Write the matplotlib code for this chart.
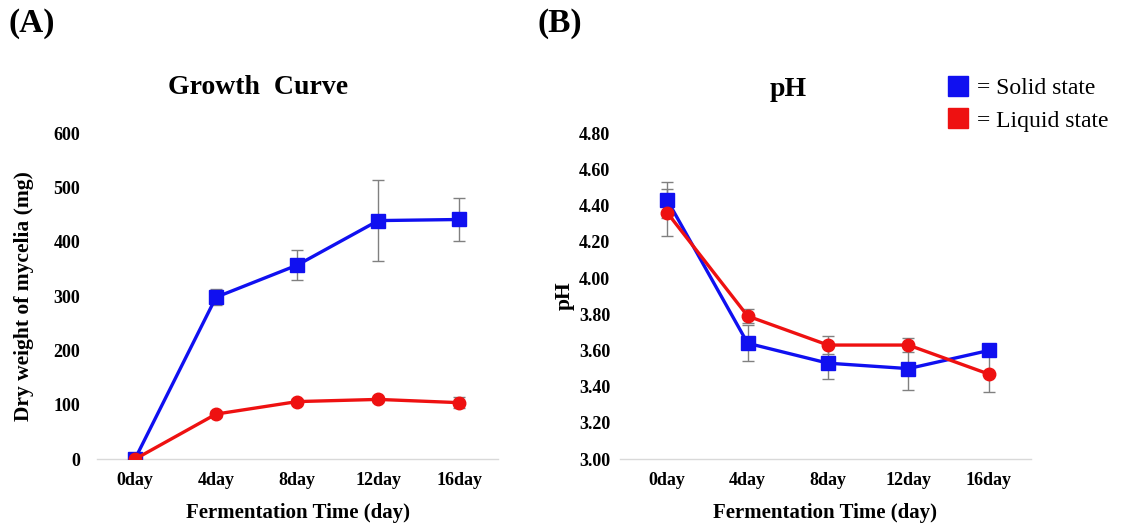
import matplotlib.pyplot as plt
from matplotlib.lines import Line2D

plt.rcParams["font.family"] = ["Liberation Serif", "DejaVu Serif"]
plt.rcParams["font.weight"] = "bold"

DAYS = ["0day", "4day", "8day", "12day", "16day"]

# growth curve (mg)
SOLID_WEIGHT = [0, 298, 357, 439, 441]
SOLID_WEIGHT_ERR = [0, 15, 27, 74, 40]
LIQUID_WEIGHT = [0, 83, 106, 110, 104]
LIQUID_WEIGHT_ERR = [0, 5, 5, 5, 10]

# pH
SOLID_PH = [4.43, 3.64, 3.53, 3.50, 3.60]
SOLID_PH_ERR = [0.10, 0.10, 0.09, 0.12, 0.03]
LIQUID_PH = [4.36, 3.79, 3.63, 3.63, 3.47]
LIQUID_PH_ERR = [0.13, 0.04, 0.05, 0.04, 0.10]

BLUE = "#1010f0"
RED = "#ee1111"
ERR_GRAY = "#808080"


def _draw_series(ax, values, errors, color, marker, size):
    x = range(len(values))
    ax.errorbar(x, values, yerr=errors, fmt="none", ecolor=ERR_GRAY,
                elinewidth=1.0, capsize=4, capthick=1.0, zorder=2)
    ax.plot(x, values, color=color, linewidth=2.4, marker=marker,
            markersize=size, markerfacecolor=color, markeredgecolor=color, zorder=3)


def _style_axes(ax, ylabel, ypad, ylabel_x):
    for side in ["left", "right", "top"]:
        ax.spines[side].set_visible(False)
    ax.spines["bottom"].set_color("#d9d9d9")
    ax.spines["bottom"].set_linewidth(1.0)
    ax.tick_params(axis="both", length=0, labelsize=13)
    ax.tick_params(axis="y", pad=ypad)
    ax.tick_params(axis="x", pad=9)
    ax.set_xticks(range(len(DAYS)))
    ax.set_xticklabels(DAYS)
    ax.set_xlabel("Fermentation Time (day)", fontsize=15, fontweight="bold")
    ax.xaxis.set_label_coords(0.5, -0.135)
    ax.set_ylabel(ylabel, fontsize=15.5, fontweight="bold")
    ax.yaxis.set_label_coords(ylabel_x, 0.5)


fig = plt.figure(figsize=(11.25, 5.26), dpi=100)

ax_a = fig.add_axes([0.086, 0.127, 0.357, 0.620])
_draw_series(ax_a, SOLID_WEIGHT, SOLID_WEIGHT_ERR, BLUE, "s", 10)
_draw_series(ax_a, LIQUID_WEIGHT, LIQUID_WEIGHT_ERR, RED, "o", 9)
ax_a.set_ylim(0, 600)
ax_a.set_yticks(range(0, 601, 100))
ax_a.set_xlim(-0.47, 4.48)
_style_axes(ax_a, "Dry weight of mycelia (mg)", 12, -0.157)

ax_b = fig.add_axes([0.551, 0.127, 0.365, 0.620])
_draw_series(ax_b, SOLID_PH, SOLID_PH_ERR, BLUE, "s", 10)
_draw_series(ax_b, LIQUID_PH, LIQUID_PH_ERR, RED, "o", 9)
ax_b.set_ylim(3.0, 4.8)
ax_b.set_yticks([3.0 + 0.2 * i for i in range(10)])
ax_b.set_yticklabels([f"{3.0 + 0.2 * i:.2f}" for i in range(10)])
ax_b.set_xlim(-0.59, 4.52)
_style_axes(ax_b, "pH", 7, -0.110)

fig.text(0.229, 0.833, "Growth  Curve", fontsize=20, fontweight="bold", ha="center", va="center")
fig.text(0.701, 0.829, "pH", fontsize=20, fontweight="bold", ha="center", va="center")

fig.text(0.008, 0.955, "(A)", fontsize=24, fontweight="bold", va="center")
fig.text(0.478, 0.955, "(B)", fontsize=24, fontweight="bold", va="center")

handles = [
    Line2D([], [], linestyle="none", marker="s", markersize=15, color=BLUE),
    Line2D([], [], linestyle="none", marker="s", markersize=15, color=RED),
]
fig.legend(handles, ["= Solid state", "= Liquid state"], loc="upper left",
           bbox_to_anchor=(0.835, 0.870), frameon=False, handlelength=0.8,
           handletextpad=0.4, labelspacing=0.45, borderaxespad=0,
           prop={"family": "Liberation Serif", "weight": "normal", "size": 17})

fig.savefig("out.png", dpi=100)
